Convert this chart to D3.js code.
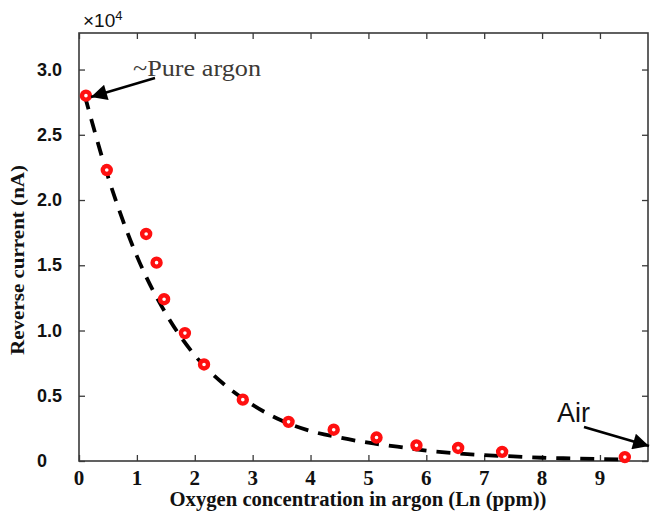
<!DOCTYPE html>
<html>
<head>
<meta charset="utf-8">
<script src="https://cdn.jsdelivr.net/npm/d3@7"></script>
<style>
html,body{margin:0;padding:0;background:#fff;}
svg{display:block;}
</style>
</head>
<body>
<svg id="chart" width="650" height="515"></svg>
<script>
// ---- data ----
const pointX = [0.12, 0.48, 1.16, 1.34, 1.47, 1.83, 2.16, 2.83, 3.62, 4.40, 5.14, 5.83, 6.55, 7.31, 9.43];
const pointY = [2.80, 2.23, 1.74, 1.52, 1.24, 0.98, 0.74, 0.47, 0.30, 0.24, 0.18, 0.12, 0.10, 0.07, 0.03];
const fitX = [0.1, 0.5, 1.0, 1.5, 2.0, 2.5, 3.0, 3.5, 4.0, 4.5, 5.0, 5.5, 6.0, 6.5, 7.0, 7.5, 8.0, 8.5, 9.0, 9.5];
const fitY = [2.80, 2.18, 1.57, 1.13, 0.81, 0.59, 0.43, 0.31, 0.23, 0.18, 0.14, 0.11, 0.08, 0.06, 0.045, 0.035, 0.025, 0.02, 0.015, 0.01];
const xTicks = [0, 1, 2, 3, 4, 5, 6, 7, 8, 9];
const yTicks = [0, 0.5, 1.0, 1.5, 2.0, 2.5, 3.0];
const yTickLabels = ["0", "0.5", "1.0", "1.5", "2.0", "2.5", "3.0"];
const xTitle = "Oxygen concentration in argon (Ln (ppm))";
const yTitle = "Reverse current (nA)";

const svg = d3.select("#chart");
const L = 79, R = 648, T = 33, B = 461;
const x = d3.scaleLinear().domain([0, 9.83]).range([L, R]);
const y = d3.scaleLinear().domain([0, 3.28]).range([B, T]);

const defs = svg.append("defs");
defs.append("marker").attr("id", "ah").attr("viewBox", "0 0 10 10")
  .attr("refX", 10).attr("refY", 5).attr("markerWidth", 21).attr("markerHeight", 16)
  .attr("markerUnits", "userSpaceOnUse").attr("orient", "auto")
  .append("path").attr("d", "M0,0 L10,5 L0,10 Z").attr("fill", "#000");

// frame
svg.append("rect").attr("x", L).attr("y", T).attr("width", R - L).attr("height", B - T)
  .attr("fill", "none").attr("stroke", "#3a3a3a").attr("stroke-width", 1.6);

// ticks (inward, mirrored)
const axStyle = g => { g.select(".domain").remove(); g.selectAll("line").attr("stroke", "#3a3a3a").attr("stroke-width", 1.3); g.selectAll("text").remove(); };
svg.append("g").attr("transform", `translate(0,${B})`).call(d3.axisTop(x).tickValues(xTicks).tickSize(6)).call(axStyle);
svg.append("g").attr("transform", `translate(0,${T})`).call(d3.axisBottom(x).tickValues(xTicks).tickSize(6)).call(axStyle);
svg.append("g").attr("transform", `translate(${L},0)`).call(d3.axisRight(y).tickValues(yTicks).tickSize(6)).call(axStyle);
svg.append("g").attr("transform", `translate(${R},0)`).call(d3.axisLeft(y).tickValues(yTicks).tickSize(6)).call(axStyle);

// tick labels
svg.append("g").selectAll("text").data(xTicks).join("text")
  .attr("x", d => x(d)).attr("y", 485)
  .attr("text-anchor", "middle")
  .attr("font-family", "Liberation Serif, serif").attr("font-weight", "bold").attr("font-size", 21)
  .attr("fill", "#111").text(d => d);

svg.append("g").selectAll("text").data(yTicks).join("text")
  .attr("x", 37).attr("y", d => y(d) + 6)
  .attr("text-anchor", "start")
  .attr("font-family", "Liberation Sans, Arial, sans-serif").attr("font-weight", "bold").attr("font-size", 18)
  .attr("fill", "#111").text((d, i) => yTickLabels[i]);

// exponent
const ex = svg.append("text").attr("x", 83).attr("y", 27)
  .attr("font-family", "Liberation Sans, Arial, sans-serif").attr("font-size", 19).attr("fill", "#111");
ex.append("tspan").text("×10");
ex.append("tspan").attr("dy", -7).attr("font-size", 13).text("4");

// titles
svg.append("text").attr("x", 358).attr("y", 506).attr("text-anchor", "middle")
  .attr("font-family", "Liberation Serif, serif").attr("font-weight", "bold").attr("font-size", 20)
  .attr("textLength", 377).attr("lengthAdjust", "spacingAndGlyphs")
  .attr("fill", "#111").text(xTitle);
svg.append("text").attr("transform", "translate(24,260) rotate(-90)").attr("text-anchor", "middle")
  .attr("font-family", "Liberation Serif, serif").attr("font-weight", "bold").attr("font-size", 19)
  .attr("textLength", 190).attr("lengthAdjust", "spacingAndGlyphs")
  .attr("fill", "#111").text(yTitle);

// fitted dashed curve
const line = d3.line().x((d, i) => x(fitX[i])).y(d => y(d)).curve(d3.curveMonotoneX);
svg.append("path").datum(fitY).attr("d", line)
  .attr("fill", "none").attr("stroke", "#000").attr("stroke-width", 3.8)
  .attr("stroke-dasharray", "14,10");

// data points
svg.append("g").selectAll("circle").data(pointY).join("circle")
  .attr("cx", (d, i) => x(pointX[i])).attr("cy", d => y(d)).attr("r", 4)
  .attr("fill", "#fff").attr("stroke", "#ff1010").attr("stroke-width", 4.4);

// annotations
svg.append("text").attr("x", 133).attr("y", 76)
  .attr("font-family", "Liberation Serif, serif").attr("font-size", 23).attr("fill", "#3d3a36")
  .attr("textLength", 128).attr("lengthAdjust", "spacingAndGlyphs")
  .text("~Pure argon");
svg.append("line").attr("x1", 155).attr("y1", 78).attr("x2", 91).attr("y2", 97)
  .attr("stroke", "#000").attr("stroke-width", 2.4).attr("marker-end", "url(#ah)");

svg.append("text").attr("x", 557).attr("y", 422)
  .attr("font-family", "Liberation Sans, Arial, sans-serif").attr("font-size", 27).attr("fill", "#111")
  .text("Air");
svg.append("line").attr("x1", 584).attr("y1", 427).attr("x2", 649).attr("y2", 446)
  .attr("stroke", "#000").attr("stroke-width", 2.8).attr("marker-end", "url(#ah)");
</script>
</body>
</html>
